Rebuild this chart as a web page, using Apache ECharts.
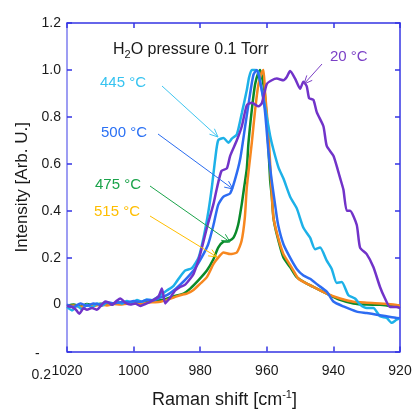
<!DOCTYPE html>
<html><head><meta charset="utf-8">
<script src="https://cdn.jsdelivr.net/npm/echarts@6/dist/echarts.min.js"></script>
<style>html,body{margin:0;padding:0;background:#fff}#c{width:415px;height:414px}</style>
</head><body><div id="c"></div>
<script>
// ---- data ----
const xMin = 920, xMax = 1020, xStep = 20;
const yMin = -0.2, yMax = 1.2, yStep = 0.2;

const cyanX = [1020,1018.5,1017,1015.5,1014,1012.5,1011,1009.5,1008,1006.5,1005,1003.5,1002,1000.5,999,997.5,996,994.5,993,991.5,990,988,986,984.5,982.5,980.5,979,977.5,976.5,975.5,974.6,973,971.5,970.5,969,967.5,966,965.3,964.5,963.5,962.5,962,961,960,959,958,956.5,955,953,951,949,947,945.5,944,942,940.5,939,937.5,935.5,933.5,932,930,928,926,924,922.5,921,920];
const cyanY = [-0.01,-0.025,-0.005,-0.02,0.0,-0.012,0.005,-0.005,0.01,0.0,0.012,0.004,0.015,0.008,0.02,0.012,0.022,0.018,0.03,0.045,0.06,0.08,0.12,0.145,0.155,0.2,0.285,0.4,0.5,0.62,0.7,0.71,0.69,0.707,0.725,0.816,0.914,0.97,1.0,1.0,0.99,0.95,0.88,0.8,0.72,0.66,0.585,0.537,0.46,0.41,0.327,0.285,0.236,0.243,0.187,0.152,0.092,0.096,0.04,0.026,0.0,-0.015,-0.015,-0.05,-0.057,-0.078,-0.064,-0.06];

const purpleX = [1020,1018.5,1017.3,1016.3,1015,1014,1012.5,1011,1010,1008.5,1007.5,1006.5,1005,1004,1002.5,1001,999.5,998,997,995.5,994,992.5,991.5,990.5,989,987.5,986,984.5,983,982,980,978,976,975,973.6,972,971,969,967.5,966,964.5,962.5,961.5,960,958.5,957,955,954,953,951.5,950,949,948,947.3,946,945,943,942,940,938.6,938,937,936,935,933,932,930,928,926,924.5,923,921,920];
const purpleY = [-0.006,-0.011,-0.022,-0.039,-0.015,-0.022,-0.015,-0.022,-0.008,0.013,0.008,-0.001,0.017,0.026,0.008,0.0,0.005,-0.006,0.0,0.008,0.02,0.034,0.068,0.005,0.03,0.06,0.075,0.085,0.11,0.13,0.215,0.327,0.43,0.495,0.57,0.58,0.634,0.7,0.76,0.85,0.86,0.845,0.858,0.94,0.956,0.963,0.956,0.97,0.995,0.963,0.92,0.95,0.93,0.88,0.872,0.82,0.76,0.676,0.634,0.57,0.54,0.49,0.4,0.4,0.34,0.243,0.215,0.16,0.075,0.026,-0.01,-0.01,-0.015];

const blueX = [1020,1018,1016,1014,1012,1010,1008,1006,1004,1002,1000,998,996,994,992,990,988,986,984.6,982,979.6,977.6,976,974.6,973,971,969.6,968,966.5,965,964,963,962,960.6,959.5,958.6,957.5,956.6,955,953,951,949,947,944.6,942,940,937,933,930,927,924,921,920];
const blueY = [0.0,-0.01,0.005,-0.005,0.005,0.0,0.01,0.005,0.01,0.01,0.015,0.012,0.02,0.018,0.03,0.04,0.06,0.085,0.104,0.145,0.2,0.257,0.34,0.425,0.46,0.474,0.53,0.62,0.76,0.9,0.98,1.0,0.95,0.83,0.65,0.537,0.425,0.34,0.257,0.2,0.152,0.124,0.11,0.083,0.055,0.013,-0.008,-0.03,-0.036,-0.043,-0.05,-0.057,-0.058];

const greenX = [1020,1018,1016,1014,1012,1010,1008,1006,1004,1002,1000,998,996,994,992,990,988,985,983,980.5,978,976,974.6,973,971.5,970,968.6,967.5,966.8,966,965.5,964.5,963.5,962.5,962,961.3,960.6,959.6,959,958.5,958,957,955,953,951,948,945,942,938,934,930,926,922,920];
const greenY = [-0.005,0.0,-0.008,0.002,-0.004,0.004,0.0,0.006,0.004,0.008,0.006,0.01,0.012,0.015,0.018,0.025,0.035,0.047,0.068,0.104,0.145,0.194,0.243,0.268,0.27,0.285,0.34,0.43,0.5,0.58,0.69,0.83,0.94,0.99,1.0,0.96,0.9,0.69,0.53,0.46,0.37,0.3,0.2,0.16,0.117,0.089,0.068,0.047,0.02,0.005,0.0,-0.001,-0.008,-0.01];

const orangeX = [1020,1018,1016,1014,1012,1010,1008,1006,1004,1002,1000,998,996,994,992,990,988,986,984,982,980,978,976,974.6,973,971,969,967.6,966.6,966,964.5,963.5,962.5,961.5,961,960.5,959.5,958.6,958,956.6,955,953.5,952,950.5,948,945,942,938,934,930,926,922,920];
const orangeY = [-0.008,-0.004,-0.01,-0.002,-0.006,0.0,-0.004,0.002,0.0,0.004,0.005,0.003,0.008,0.01,0.012,0.02,0.03,0.04,0.047,0.062,0.089,0.117,0.173,0.2,0.222,0.215,0.222,0.27,0.37,0.5,0.69,0.83,0.94,0.99,1.0,0.9,0.73,0.495,0.37,0.285,0.215,0.18,0.145,0.11,0.089,0.068,0.047,0.026,0.012,0.008,0.005,0.0,-0.005];

const seriesNames = ['475 °C','515 °C','445 °C','500 °C','20 °C'];

// ---- build ----
function pairs(xs, ys){ return xs.map((x,i)=>[x, ys[i]]); }
const FONT = 'Liberation Sans, Arial, sans-serif';
const TXT = '#1a1a1a';
const AX_DARK = '#3434e4';
const AX_LIGHT = '#7d7def';

function lineSeries(name, xs, ys, color){
  return {name, type:'line', data:pairs(xs,ys), showSymbol:false, smooth:0.2,
    lineStyle:{color, width:2.5}, itemStyle:{color}, xAxisIndex:0, yAxisIndex:0, z:2};
}

function arrow(x1,y1,x2,y2,color){
  const ang = Math.atan2(y2-y1, x2-x1), L = 9, a = 0.42;
  const p1 = [x2 - L*Math.cos(ang-a), y2 - L*Math.sin(ang-a)];
  const p2 = [x2 - L*Math.cos(ang+a), y2 - L*Math.sin(ang+a)];
  return [
    {type:'line', shape:{x1,y1,x2,y2}, style:{stroke:color, lineWidth:1}, z:10},
    {type:'polyline', shape:{points:[p1,[x2,y2],p2]}, style:{stroke:color, lineWidth:1, fill:null}, z:10}
  ];
}
function label(text, x, y, color, size, align){
  return {type:'text', x, y, z:10, style:{text, fill:color, fontSize:size||15, fontFamily:FONT, verticalAlign:'middle', align:align||'left'}};
}

const graphics = [].concat(
  [{type:'text', x:113, y:50, z:10, style:{
    text:'{t|H}{s|2}{t|O pressure 0.1 Torr}', fill:TXT, fontFamily:FONT, verticalAlign:'middle', align:'left',
    rich:{t:{fontSize:16, fontFamily:FONT, fill:TXT, lineHeight:20}, s:{fontSize:11, fontFamily:FONT, fill:TXT, padding:[9,0,0,0], lineHeight:20}}
  }}],
  [label('445 °C', 100, 83, '#36c3f0')], arrow(162,86,218,137,'#40c6f0'),
  [label('500 °C', 101, 133, '#2a70f4')], arrow(158,134,233,189,'#2a6cf0'),
  [label('475 °C', 95, 185, '#1aa34a')], arrow(150,186,230,242,'#1aa34a'),
  [label('515 °C', 94, 212, '#ffbe00')], arrow(150,216,217,257,'#ffbe00'),
  [label('20 °C', 330, 57, '#7b40c6')], arrow(322,64,304,84,'#7b40c6'),
  // the wrapped "-0.2" tick label of the reference
  [label('-', 35, 354, TXT, 14, 'left'), label('0.2', 51, 375, TXT, 14, 'right')]
);

const chart = echarts.init(document.getElementById('c'), null, {renderer:'canvas'});
chart.setOption({
  animation:false,
  backgroundColor:'#fff',
  grid:{left:67, right:15, top:23, bottom:55},
  xAxis:[{
    type:'value', min:xMin, max:xMax, interval:xStep, inverse:true, position:'bottom',
    axisLine:{onZero:false, lineStyle:{color:AX_DARK, width:1.5}},
    axisTick:{inside:true, length:5, lineStyle:{color:AX_DARK, width:1.5}},
    axisLabel:{color:TXT, fontSize:14, fontFamily:FONT, margin:13, formatter:function(v){return String(v);}},
    splitLine:{show:false},
    name:'Raman shift [cm{sup|-1}]', nameLocation:'middle', nameGap:38,
    nameTextStyle:{color:TXT, fontSize:18, fontFamily:FONT, padding:[0,18,0,0],
      rich:{sup:{fontSize:11, fontFamily:FONT, color:TXT, padding:[0,0,10,0]}}}
  },{
    type:'value', min:xMin, max:xMax, interval:xStep, inverse:true, position:'top',
    axisLine:{onZero:false, lineStyle:{color:AX_DARK, width:1.5}},
    axisTick:{inside:true, length:5, lineStyle:{color:AX_DARK, width:1.5}},
    axisLabel:{show:false}, splitLine:{show:false}
  }],
  yAxis:[{
    type:'value', min:yMin, max:yMax, interval:yStep, position:'left',
    axisLine:{onZero:false, lineStyle:{color:AX_LIGHT, width:1.5}},
    axisTick:{inside:true, length:5, lineStyle:{color:AX_DARK, width:1.5}},
    axisLabel:{color:TXT, fontSize:14, fontFamily:FONT, margin:6,
      formatter:function(v){
        if (Math.abs(v - yMin) < 1e-9) return '';
        if (Math.abs(v) < 1e-9) return '0';
        return v.toFixed(1);
      }
    },
    splitLine:{show:false},
    name:'Intensity [Arb. U.]', nameLocation:'middle', nameGap:35, nameRotate:90,
    nameTextStyle:{color:TXT, fontSize:17, fontFamily:FONT}
  },{
    type:'value', min:yMin, max:yMax, interval:yStep, position:'right',
    axisLine:{onZero:false, lineStyle:{color:AX_DARK, width:1.5}},
    axisTick:{inside:true, length:5, lineStyle:{color:AX_DARK, width:1.5}},
    axisLabel:{show:false}, splitLine:{show:false}
  }],
  series:[
    lineSeries(seriesNames[0], greenX, greenY, '#0a8a2a'),
    lineSeries(seriesNames[1], orangeX, orangeY, '#f7871f'),
    lineSeries(seriesNames[2], cyanX, cyanY, '#1db1e8'),
    lineSeries(seriesNames[3], blueX, blueY, '#2d6cf2'),
    lineSeries(seriesNames[4], purpleX, purpleY, '#7133c9')
  ],
  graphic:graphics
});
</script></body></html>
